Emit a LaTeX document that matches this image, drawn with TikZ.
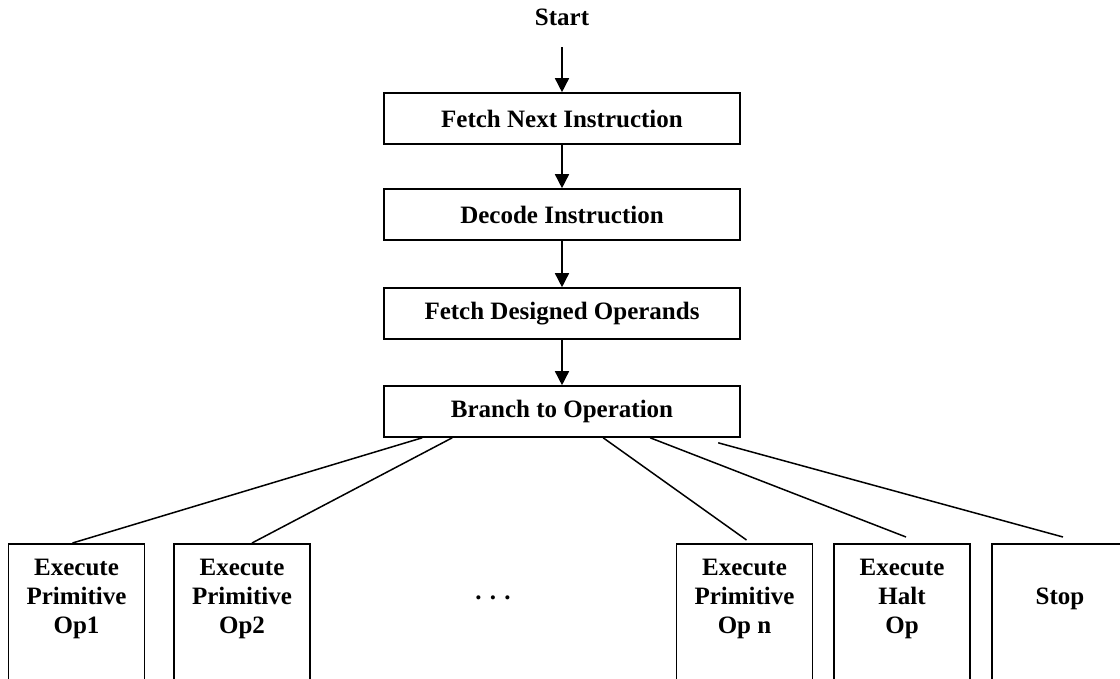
\documentclass[tikz,border=0pt]{standalone}
\usepackage{fontspec}
\setmainfont{Liberation Serif}
\usetikzlibrary{arrows.meta,calc}
\begin{document}
\begin{tikzpicture}[x=1pt,y=-1pt,
  lbl/.style={font=\fontsize{25}{29}\selectfont\bfseries, align=center, inner sep=0pt},
  mainbox/.style={draw, line width=1.6pt, minimum width=356, minimum height=51, inner sep=0pt, font=\fontsize{25}{29}\selectfont\bfseries},
  opbox/.style={draw, line width=1.6pt, minimum width=136, minimum height=170, anchor=north, inner sep=0pt},
  flow/.style={line width=1.5pt, -{Triangle[length=14pt,width=14pt]}},
  branchline/.style={line width=1.5pt}]
\useasboundingbox (0,0) rectangle (1120,678);
\clip (0,0) rectangle (1120,678);
\node[lbl] (start) at (562,17) {Start};
\coordinate (startend) at (562,47);
\node[mainbox] (fetch) at (562,118.5) {Fetch Next Instruction};
\node[mainbox] (decode) at (562,214.5) {Decode Instruction};
\node[mainbox] (operands) at (562,313.5) {Fetch Designed Operands};
\node[mainbox] (branch) at (562,411.5) {Branch to Operation};
\draw[flow] (startend) -- (fetch.north);
\draw[flow] (fetch) -- (decode);
\draw[flow] (decode) -- (operands);
\draw[flow] (operands) -- (branch);
% bottom boxes
\node[opbox] (op1) at (76.5,543) {};
\node[opbox] (op2) at (242,543) {};
\node[opbox] (opn) at (744.5,543) {};
\node[opbox] (halt) at (902,543) {};
\node[opbox] (stop) at (1060,543) {};
\node[lbl] (op1t) at ($(op1.north)+(0,56)$) {Execute\\Primitive\\Op1};
\node[lbl] (op2t) at ($(op2.north)+(0,56)$) {Execute\\Primitive\\Op2};
\node[lbl] (opnt) at ($(opn.north)+(0,56)$) {Execute\\Primitive\\Op n};
\node[lbl] (haltt) at ($(halt.north)+(0,56)$) {Execute\\Halt\\Op};
\node[lbl] (stopt) at ($(stop.north)+(0,56)$) {Stop};
\node[lbl] (dots) at (493,598) {. . .};
% branch lines
\draw[branchline] ($(branch.south west)+(39,0)$) -- ($(op1.north)+(-4,0)$);
\draw[branchline] ($(branch.south west)+(69,0)$) -- ($(op2.north)+(10,0)$);
\draw[branchline] ($(branch.south west)+(220,0)$) -- ($(opn.north)+(2,-3)$);
\draw[branchline] ($(branch.south west)+(267,0)$) -- ($(halt.north)+(4,-6)$);
\draw[branchline] ($(branch.south west)+(335,5)$) -- ($(stop.north)+(3,-6)$);
\end{tikzpicture}
\end{document}
